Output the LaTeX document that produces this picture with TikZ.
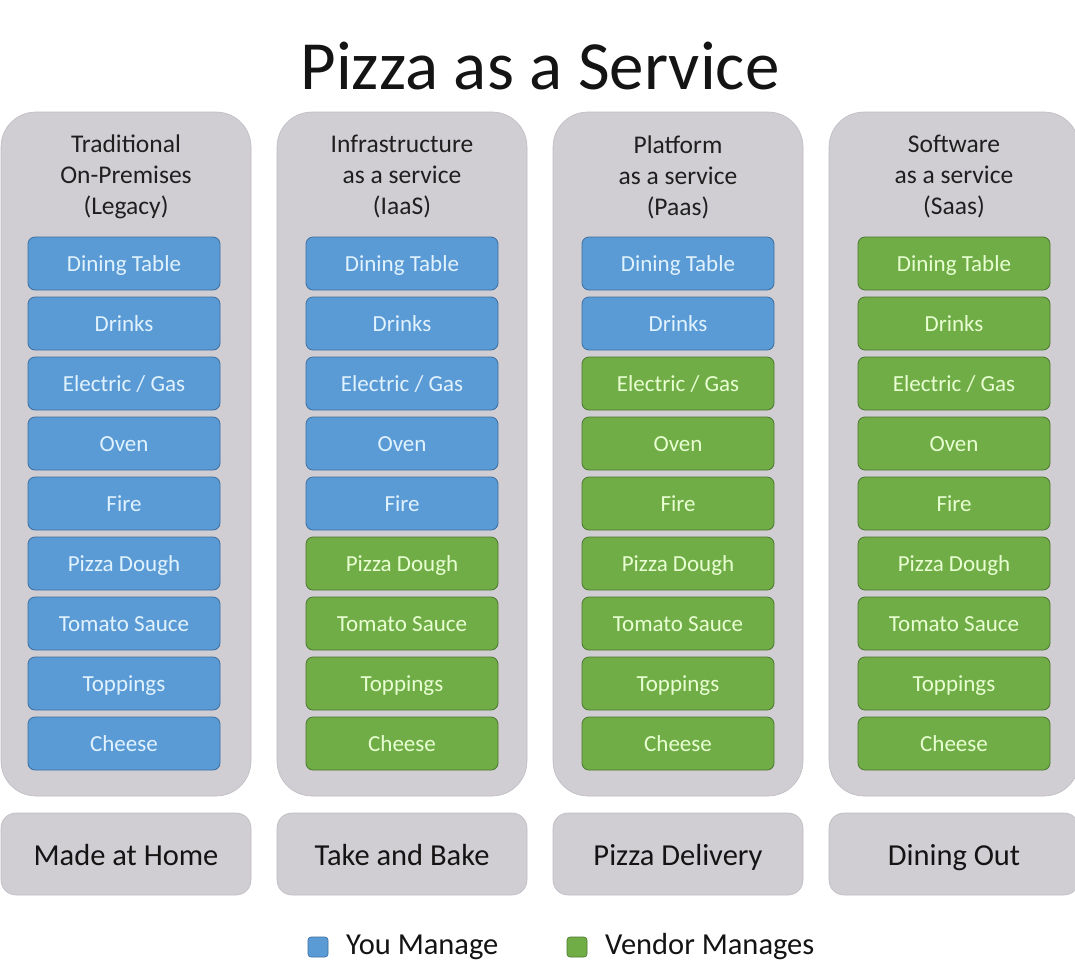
\documentclass[tikz,border=0pt]{standalone}
\usepackage{fontspec}
\setmainfont{Carlito}
\definecolor{panelgray}{RGB}{208,206,211}
\definecolor{panelborder}{RGB}{190,188,193}
\definecolor{youblue}{RGB}{91,155,213}
\definecolor{youborder}{RGB}{60,110,160}
\definecolor{youtext}{RGB}{225,242,255}
\definecolor{vendgreen}{RGB}{112,173,71}
\definecolor{vendborder}{RGB}{75,120,45}
\definecolor{vendtext}{RGB}{232,255,210}
\begin{document}
\begin{tikzpicture}[x=1pt,y=-1pt,
  panel/.style={fill=panelgray, draw=panelborder, line width=0.6pt, rounded corners=35pt, minimum width=250pt, minimum height=684pt, inner sep=0pt},
  header/.style={align=center, font=\fontsize{25.5}{31}\selectfont, text=black!88},
  item/.style={rounded corners=7pt, minimum width=192pt, minimum height=53pt, inner sep=0pt, line width=0.8pt, font=\fontsize{23}{26}\selectfont, text height=19pt, text depth=4pt},
  you/.style={item, fill=youblue, draw=youborder, text=youtext},
  vendor/.style={item, fill=vendgreen, draw=vendborder, text=vendtext},
  bottombox/.style={fill=panelgray, draw=panelborder, line width=0.6pt, rounded corners=15pt, minimum width=250pt, minimum height=82pt, inner sep=0pt, font=\fontsize{30.5}{34}\selectfont, text=black!92, text height=28pt, text depth=6pt},
  legbox/.style={rounded corners=3pt, minimum size=20pt, inner sep=0pt, line width=0.6pt},
  legtext/.style={anchor=west, inner sep=0pt, font=\fontsize{30.5}{34}\selectfont, text=black!92, text height=22pt, text depth=8pt}
]
\useasboundingbox (0,0) rectangle (1075,975);
\fill[white] (0,0) rectangle (1075,975);

\node[font=\fontsize{69}{80}\selectfont, text=black!92] (title) at (540,66) {Pizza as a Service};

% panels
\foreach \i/\cx in {1/126,2/402,3/678,4/954} {
  \node[panel] (p\i) at (\cx,454) {};
}
\node[header] (h1) at (126,177) {Traditional\\On-Premises\\(Legacy)};
\node[header] (h2) at (402,177) {Infrastructure\\as a service\\(IaaS)};
\node[header] (h3) at (678,177) {Platform\\as a service\\(Paas)};
\node[header] (h4) at (954,177) {Software\\as a service\\(Saas)};

% items
\foreach \i/\cx/\nb in {1/124/9,2/402/5,3/678/2,4/954/0} {
  \foreach \t [count=\j] in {Dining Table,Drinks,Electric / Gas,Oven,Fire,Pizza Dough,Tomato Sauce,Toppings,Cheese} {
    \pgfmathsetmacro{\yy}{263.5+60*(\j-1)}
    \ifnum\j>\nb
      \node[vendor] (c\i r\j) at (\cx,\yy) {\t};
    \else
      \node[you] (c\i r\j) at (\cx,\yy) {\t};
    \fi
  }
}

% bottom boxes
\node[bottombox] (b1) at (126,854) {Made at Home};
\node[bottombox] (b2) at (402,854) {Take and Bake};
\node[bottombox] (b3) at (678,854) {Pizza Delivery};
\node[bottombox] (b4) at (954,854) {Dining Out};

% legend
\node[legbox, fill=youblue, draw=youborder] (lb) at (318,947) {};
\node[legtext] (lbt) at (346,947) {You Manage};
\node[legbox, fill=vendgreen, draw=vendborder] (lg) at (577,947) {};
\node[legtext] (lgt) at (605,947) {Vendor Manages};
\end{tikzpicture}
\end{document}
